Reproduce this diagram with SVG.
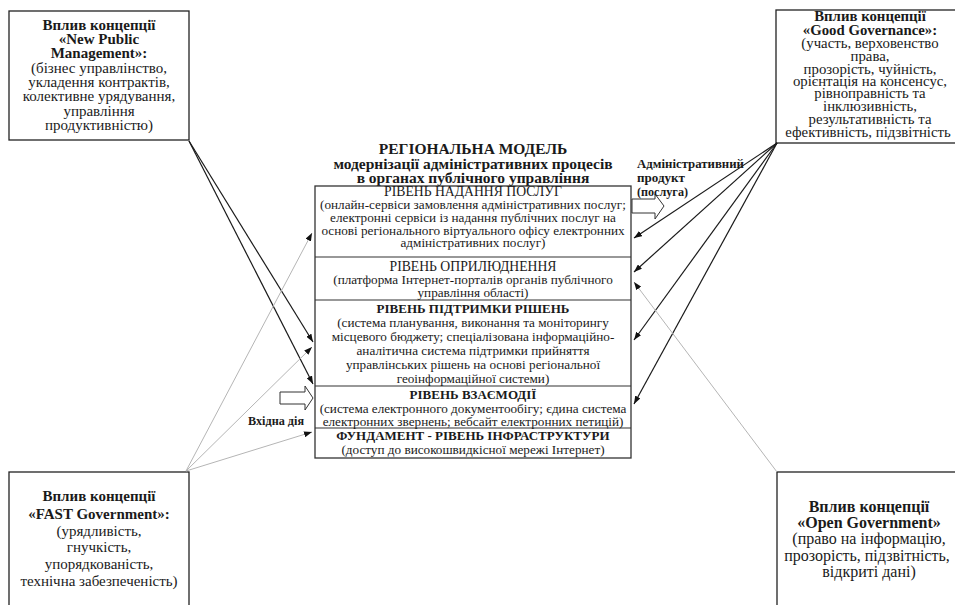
<svg xmlns="http://www.w3.org/2000/svg" width="955" height="605" viewBox="0 0 955 605">
<defs>
<marker id="ah" viewBox="0 0 8 6" refX="8" refY="3" markerWidth="8" markerHeight="6" markerUnits="userSpaceOnUse" orient="auto"><path d="M0,0 L8,3 L0,6 z" fill="#111"/></marker>
<style>
text{font-family:"Liberation Serif","Times New Roman",serif;fill:#1a1a1a;text-anchor:middle}
.b{font-weight:bold}
.side{font-size:15px}
.gg{font-size:14.8px}
.og{font-size:16px}
.lv{font-size:13.2px}
.lh{font-size:13.7px}
.lhb{font-size:13px;font-weight:bold}
.st{text-anchor:start;font-weight:bold;font-size:12px}
.box{fill:#fff;stroke:#222;stroke-width:1.3}
.sep{stroke:#333;stroke-width:1.2}
.dk{stroke:#1a1a1a;stroke-width:1.2;fill:none;marker-end:url(#ah)}
.gr{stroke:#b5b5b5;stroke-width:1;fill:none;marker-end:url(#ah)}
.blk{fill:#fff;stroke:#333;stroke-width:1}
</style>
</defs>
<rect width="955" height="605" fill="#fff"/>

<g id="npm">
<rect class="box" x="9" y="11" width="180" height="129"/>
<text class="side b" x="99" y="30">Вплив концепції</text>
<text class="side b" x="99" y="44">«New Public</text>
<text class="side b" x="99" y="58">Management»:</text>
<text class="side" x="99" y="73">(бізнес управлінство,</text>
<text class="side" x="99" y="87">укладення контрактів,</text>
<text class="side" x="99" y="101">колективне урядування,</text>
<text class="side" x="99" y="116">управління</text>
<text class="side" x="99" y="130">продуктивністю)</text>
</g>

<g id="gg">
<rect class="box" x="776" y="10" width="190" height="133"/>
<text class="gg b" x="870" y="21">Вплив концепції</text>
<text class="gg b" x="870" y="35">«Good Governance»:</text>
<text class="gg" x="870" y="48">(участь, верховенство</text>
<text class="gg" x="870" y="61">права,</text>
<text class="gg" x="870" y="74">прозорість, чуйність,</text>
<text class="gg" x="870" y="86">орієнтація на консенсус,</text>
<text class="gg" x="870" y="98">рівноправність та</text>
<text class="gg" x="870" y="111">інклюзивність,</text>
<text class="gg" x="870" y="124">результативність та</text>
<text class="gg" x="868" y="137">ефективність, підзвітність</text>
</g>

<g id="fast">
<rect class="box" x="9" y="472" width="180" height="140"/>
<text class="side b" x="99" y="501">Вплив концепції</text>
<text class="side b" x="99" y="519">«FAST Government»:</text>
<text class="side" x="99" y="536">(урядливість,</text>
<text class="side" x="99" y="552">гнучкість,</text>
<text class="side" x="99" y="569">упорядкованість,</text>
<text class="side" x="99" y="586">технічна забезпеченість)</text>
</g>

<g id="og">
<rect class="box" x="777" y="472" width="190" height="140"/>
<text class="og b" x="869" y="512">Вплив концепції</text>
<text class="og b" x="869" y="528">«Open Government»</text>
<text class="og" x="869" y="544">(право на інформацію,</text>
<text class="og" x="867" y="561">прозорість, підзвітність,</text>
<text class="og" x="869" y="577">відкриті дані)</text>
</g>

<g id="title">
<text class="b" x="473" y="154" font-size="15.5">РЕГІОНАЛЬНА МОДЕЛЬ</text>
<text class="b" x="473" y="169" font-size="15.5">модернізації адміністративних процесів</text>
<text class="b" x="473" y="183" font-size="15.5">в органах публічного управління</text>
</g>

<g id="model">
<rect x="315" y="186" width="316" height="272" fill="none" stroke="#333" stroke-width="1.3"/>
<line class="sep" x1="315" y1="257" x2="631" y2="257"/>
<line class="sep" x1="315" y1="300" x2="631" y2="300"/>
<line class="sep" x1="315" y1="386" x2="631" y2="386"/>
<line class="sep" x1="315" y1="428" x2="631" y2="428"/>
</g>

<g id="level-services">
<text class="lh" x="473" y="196">РІВЕНЬ НАДАННЯ ПОСЛУГ</text>
<text class="lv" x="473" y="209">(онлайн-сервіси замовлення адміністративних послуг;</text>
<text class="lv" x="473" y="222">електронні сервіси із надання публічних послуг на</text>
<text class="lv" x="473" y="235">основі регіонального віртуального офісу електронних</text>
<text class="lv" x="473" y="247">адміністративних послуг)</text>
</g>
<g id="level-publication">
<text class="lh" x="473" y="271">РІВЕНЬ ОПРИЛЮДНЕННЯ</text>
<text class="lv" x="473" y="284">(платформа Інтернет-порталів органів публічного</text>
<text class="lv" x="473" y="297">управління області)</text>
</g>
<g id="level-decisions">
<text class="lhb" x="473" y="313">РІВЕНЬ ПІДТРИМКИ РІШЕНЬ</text>
<text class="lv" x="473" y="327">(система планування, виконання та моніторингу</text>
<text class="lv" x="473" y="341">місцевого бюджету; спеціалізована інформаційно-</text>
<text class="lv" x="473" y="355">аналітична система підтримки прийняття</text>
<text class="lv" x="473" y="369">управлінських рішень на основі регіональної</text>
<text class="lv" x="473" y="383">геоінформаційної системи)</text>
</g>
<g id="level-interaction">
<text class="lhb" x="473" y="399">РІВЕНЬ ВЗАЄМОДІЇ</text>
<text class="lv" x="473" y="413">(система електронного документообігу; єдина система</text>
<text class="lv" x="473" y="426">електронних звернень; вебсайт електронних петицій)</text>
</g>
<g id="level-infrastructure">
<text class="lhb" x="473" y="440">ФУНДАМЕНТ - РІВЕНЬ ІНФРАСТРУКТУРИ</text>
<text class="lv" x="473" y="454">(доступ до високошвидкісної мережі Інтернет)</text>
</g>

<g id="output">
<polygon class="blk" points="632,199 655,199 655,194 664,206 655,219 655,213 632,213"/>
<text class="st" x="637" y="168" textLength="107" lengthAdjust="spacingAndGlyphs">Адміністративний</text>
<text class="st" x="637" y="182" textLength="48" lengthAdjust="spacingAndGlyphs">продукт</text>
<text class="st" x="637" y="196" textLength="51" lengthAdjust="spacingAndGlyphs">(послуга)</text>
</g>

<g id="input">
<polygon class="blk" points="280,392 305,392 305,386 313,398 305,410 305,404 280,404"/>
<text class="st" x="248" y="425" textLength="56" lengthAdjust="spacingAndGlyphs">Вхідна дія</text>
</g>

<g id="connectors">
<path class="dk" d="M189,141 L313,342"/>
<path class="dk" d="M189,141 L313,384"/>
<path class="gr" d="M186,471 L312,233"/>
<path class="gr" d="M186,471 L312,347"/>
<path class="gr" d="M186,471 L312,432"/>
<path class="dk" d="M777,143 L634,238"/>
<path class="dk" d="M777,143 L634,272"/>
<path class="dk" d="M777,143 L634,340"/>
<path class="dk" d="M777,143 L634,404"/>
<path class="gr" d="M777,472 L634,282"/>
</g>
</svg>
